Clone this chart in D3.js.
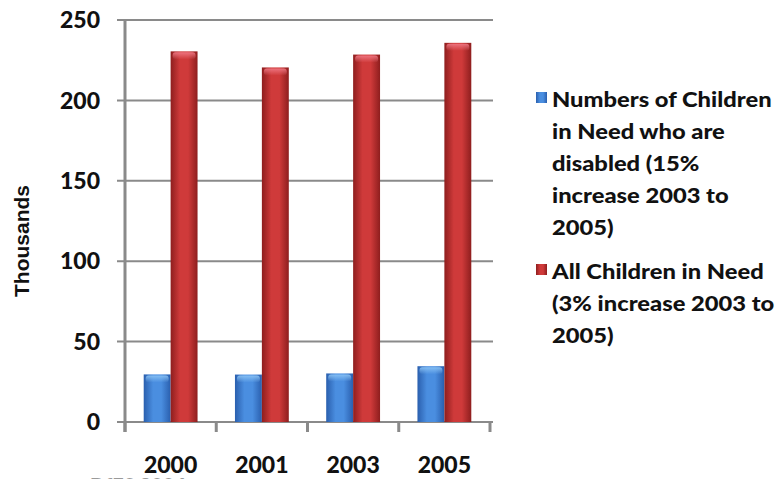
<!DOCTYPE html>
<html>
<head>
<meta charset="utf-8">
<script src="https://cdn.jsdelivr.net/npm/d3@7"></script>
<style>
  html, body { margin: 0; padding: 0; background: #fff; }
  svg { display: block; }
  text { font-family: Lato, "Open Sans", sans-serif; font-weight: 900; fill: #111; }
</style>
</head>
<body>
<svg id="chart" width="784" height="479"></svg>
<script>
// Children in Need, thousands
const years = ["2000", "2001", "2003", "2005"];
const disabled = [29.6, 29.5, 30.2, 34.7];
const allChildren = [230.5, 220.5, 228.5, 235.8];
const yTicks = [0, 50, 100, 150, 200, 250];
const seriesNames = ["disabled", "all"];
const legendLines = [
  ["Numbers of Children", "in Need who are", "disabled (15%", "increase 2003 to", "2005)"],
  ["All Children in Need", "(3% increase  2003 to", "2005)"]
];

const svg = d3.select("#chart");
const defs = svg.append("defs");

const plotL = 125, plotR = 490, plotT = 20, plotB = 422;

const x0 = d3.scaleBand().domain(years).range([plotL, plotR])
  .paddingInner(0.41).paddingOuter(0.205);
const x1 = d3.scaleBand().domain(seriesNames).range([0, x0.bandwidth()]);
const y = d3.scaleLinear().domain([0, 250]).range([plotB, plotT]);

// cylinder-like shading for each series
const palette = {
  disabled: { edge: "#2a5fae", mid: "#4a8ee0", hi: "#8cc4f5" },
  all: { edge: "#8e1e1e", mid: "#cf3a3a", hi: "#f07a86" }
};
Object.entries(palette).forEach(([k, c]) => {
  const g = defs.append("linearGradient").attr("id", "g-" + k)
    .attr("x1", "0").attr("x2", "1").attr("y1", "0").attr("y2", "0");
  g.append("stop").attr("offset", "0%").attr("stop-color", c.edge);
  g.append("stop").attr("offset", "35%").attr("stop-color", c.mid);
  g.append("stop").attr("offset", "65%").attr("stop-color", c.mid);
  g.append("stop").attr("offset", "100%").attr("stop-color", c.edge);
  const h = defs.append("linearGradient").attr("id", "h-" + k)
    .attr("x1", "0").attr("x2", "0").attr("y1", "0").attr("y2", "1");
  h.append("stop").attr("offset", "0%").attr("stop-color", c.hi).attr("stop-opacity", 0.9);
  h.append("stop").attr("offset", "100%").attr("stop-color", c.hi).attr("stop-opacity", 0);
});

// gridlines
svg.append("g").selectAll("line").data(yTicks).join("line")
  .attr("x1", plotL - 8).attr("x2", plotR + 3)
  .attr("y1", d => y(d)).attr("y2", d => y(d))
  .attr("stroke", "#8a8a8a").attr("stroke-width", 2);

// y axis line
svg.append("line").attr("x1", plotL).attr("x2", plotL)
  .attr("y1", plotT).attr("y2", plotB + 10)
  .attr("stroke", "#8a8a8a").attr("stroke-width", 3);

// category ticks under the baseline
const boundaries = years.map((d, i) => plotL + i * x0.step()).concat([plotR]);
svg.append("g").selectAll("line").data(boundaries).join("line")
  .attr("x1", d => d).attr("x2", d => d)
  .attr("y1", plotB).attr("y2", plotB + 10)
  .attr("stroke", "#8a8a8a").attr("stroke-width", 3);

// y tick labels
svg.append("g").selectAll("text").data(yTicks).join("text")
  .attr("x", 100).attr("y", d => y(d)).attr("dy", "0.36em")
  .attr("text-anchor", "end").style("font-size", "23px")
  .text(d => d);

// x labels
svg.append("g").selectAll("text").data(years).join("text")
  .attr("x", d => x0(d) + x0.bandwidth() / 2).attr("y", 473)
  .attr("text-anchor", "middle").style("font-size", "23px")
  .text(d => d);

// y axis title
svg.append("text")
  .attr("transform", "translate(29,241) rotate(-90)")
  .attr("text-anchor", "middle")
  .style("font-family", "'Liberation Sans', Arial, sans-serif")
  .style("font-weight", "bold")
  .style("font-size", "21px")
  .text("Thousands");

// bars
const rows = years.map((yr, i) => ({ yr, disabled: disabled[i], all: allChildren[i] }));
const groups = svg.append("g").selectAll("g").data(rows).join("g")
  .attr("transform", d => `translate(${x0(d.yr)},0)`);
seriesNames.forEach(s => {
  groups.append("rect")
    .attr("x", x1(s)).attr("width", x1.bandwidth())
    .attr("y", d => y(d[s])).attr("height", d => plotB - y(d[s]))
    .attr("fill", `url(#g-${s})`);
  groups.append("rect")
    .attr("x", x1(s) + 2).attr("width", x1.bandwidth() - 4)
    .attr("y", d => y(d[s]) + 1).attr("height", 7).attr("rx", 3)
    .attr("fill", `url(#h-${s})`);
});

// legend
const legendTop = [100, 272];
seriesNames.forEach((s, i) => {
  svg.append("rect").attr("x", 536).attr("y", legendTop[i] - 8)
    .attr("width", 11).attr("height", 11)
    .attr("fill", `url(#g-${s})`);
  svg.append("g").attr("transform", "translate(552,0) scale(1.13,1)")
    .selectAll("text").data(legendLines[i]).join("text")
    .attr("x", 0).attr("y", (d, j) => legendTop[i] + j * 31.8)
    .attr("dy", "0.35em").style("font-size", "21px")
    .text(d => d);
});

// source note, running off the lower edge
svg.append("text").attr("x", 90).attr("y", 493)
  .style("font-size", "20px").style("fill", "#9a9a9a")
  .text("DfES 2006");
</script>
</body>
</html>
